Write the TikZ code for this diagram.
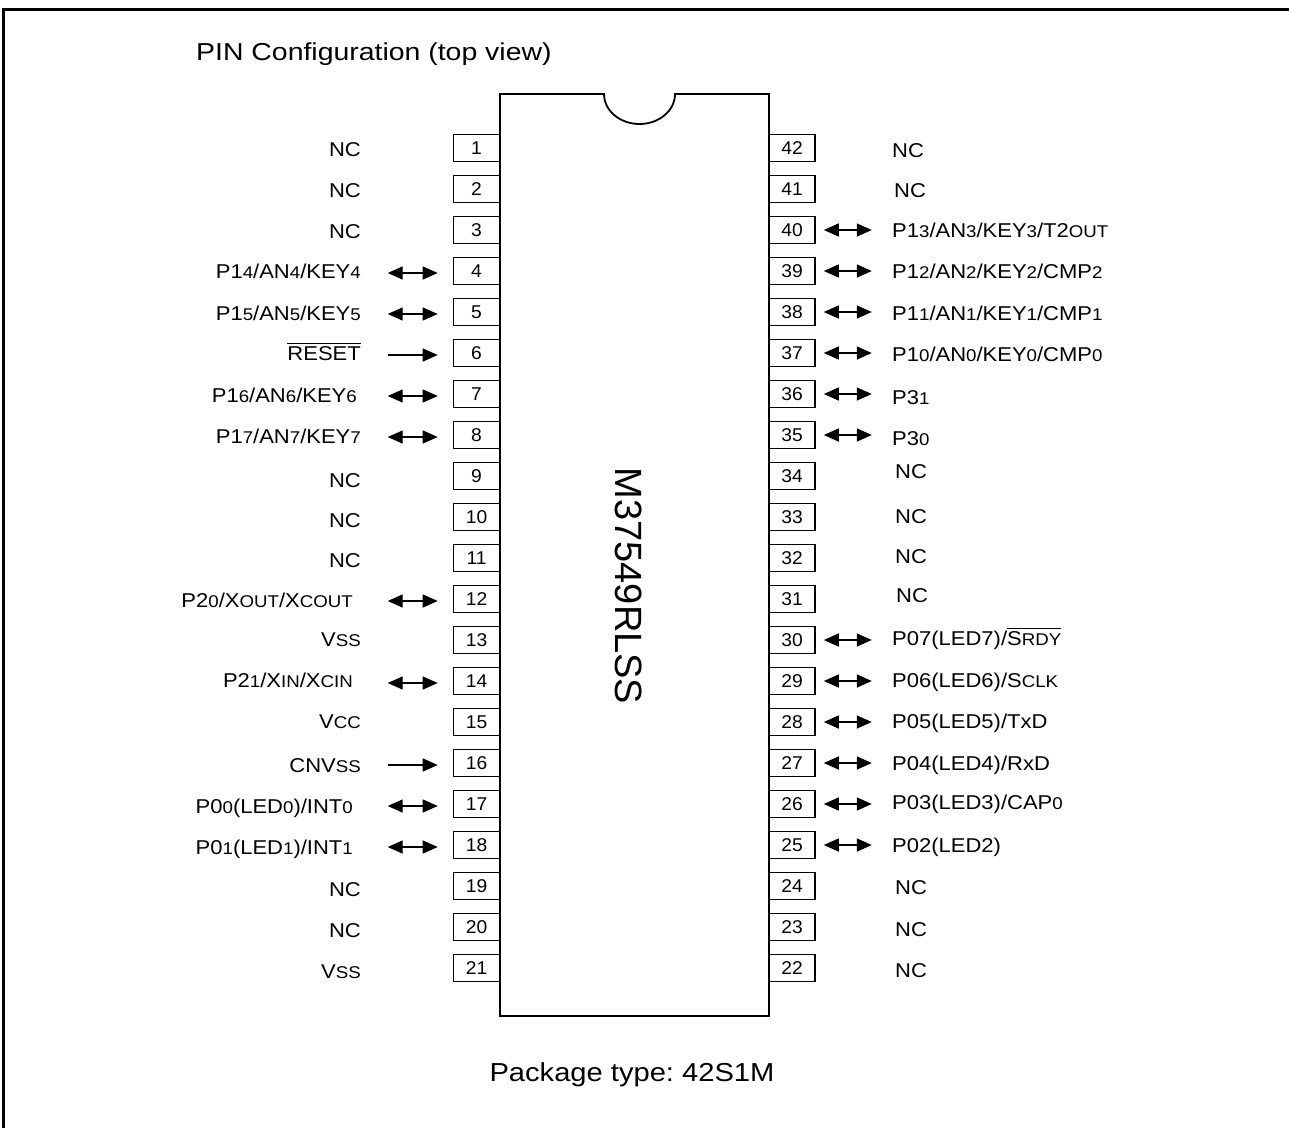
\documentclass[tikz,border=0pt]{standalone}
\usepackage{fontspec}
\setmainfont{Liberation Sans}
\usepackage{graphicx}
\usetikzlibrary{arrows.meta}
\frenchspacing
\newcommand\sm[1]{{\fontsize{17}{20}\selectfont #1}}
\newcommand\lab[1]{\scalebox{1.1}[1]{\fontsize{20}{24}\selectfont #1}}
\newcommand\ovl[1]{\setbox0\hbox{#1}\rlap{\rule[\dimexpr\ht0+1.8pt\relax]{\wd0}{1.1pt}}\box0}
\begin{document}
\begin{tikzpicture}[x=1pt,y=-1pt,
  pinbox/.style={draw, line width=1.6pt, minimum width=46pt, minimum height=27pt, inner sep=0pt,
    font=\fontsize{18.5}{20}\selectfont},
  lbl/.style={inner sep=0pt},
  lleft/.style={lbl, anchor=base east},
  lright/.style={lbl, anchor=base west},
  bi/.style={line width=1.4pt, {Triangle[length=15pt,width=13pt]}-{Triangle[length=15pt,width=13pt]}},
  uni/.style={line width=1.4pt, -{Triangle[length=15pt,width=13pt]}}]
\useasboundingbox (0,0) rectangle (1289,1128);
% frame
\draw[line width=3pt] (3.5,1128) -- (3.5,9.5) -- (1289,9.5);
% title
\node[lbl, anchor=base west] (title) at (196,60) {\scalebox{1.16}[1]{\fontsize{24.5}{28}\selectfont PIN Configuration (top view)}};
% chip body
\draw[line width=1.8pt] (500,94) -- (604,94) arc[start angle=180, end angle=0, x radius=35.5, y radius=30] -- (769,94) -- (769,1016) -- (500,1016) -- cycle;
\node[rotate=-90, inner sep=0pt, font=\fontsize{38}{40}\selectfont] (chipname) at (629,586) {M37549RLSS};
% pin boxes
\foreach \i in {1,...,21} \node[pinbox] (p\i) at (476.5,{148+41*(\i-1)}) {\scalebox{1.04}[1]{\i}};
\foreach \k in {22,...,42} \node[pinbox] (p\k) at (792,{148+41*(42-\k)}) {\scalebox{1.04}[1]{\k}};
% left labels
\node[lleft] (l1) at (361,156) {\lab{NC}};
\node[lleft] (l2) at (361,197) {\lab{NC}};
\node[lleft] (l3) at (361,238) {\lab{NC}};
\node[lleft] (l4) at (361,278) {\lab{P1\sm{4}/AN\sm{4}/KEY\sm{4}}};
\node[lleft] (l5) at (361,320) {\lab{P1\sm{5}/AN\sm{5}/KEY\sm{5}}};
\node[lleft] (l6) at (361,360) {\lab{\ovl{RESET}}};
\node[lleft] (l7) at (357,402) {\lab{P1\sm{6}/AN\sm{6}/KEY\sm{6}}};
\node[lleft] (l8) at (361,443) {\lab{P1\sm{7}/AN\sm{7}/KEY\sm{7}}};
\node[lleft] (l9) at (361,487) {\lab{NC}};
\node[lleft] (l10) at (361,527) {\lab{NC}};
\node[lleft] (l11) at (361,567) {\lab{NC}};
\node[lleft] (l12) at (353,607) {\lab{P2\sm{0}/X\sm{OUT}/X\sm{COUT}}};
\node[lleft] (l13) at (361,646) {\lab{V\sm{SS}}};
\node[lleft] (l14) at (353,687) {\lab{P2\sm{1}/X\sm{IN}/X\sm{CIN}}};
\node[lleft] (l15) at (361,728) {\lab{V\sm{CC}}};
\node[lleft] (l16) at (361,772) {\lab{CNV\sm{SS}}};
\node[lleft] (l17) at (353,813) {\lab{P0\sm{0}(LED\sm{0})/INT\sm{0}}};
\node[lleft] (l18) at (353,854) {\lab{P0\sm{1}(LED\sm{1})/INT\sm{1}}};
\node[lleft] (l19) at (361,896) {\lab{NC}};
\node[lleft] (l20) at (361,937) {\lab{NC}};
\node[lleft] (l21) at (361,978) {\lab{V\sm{SS}}};
% right labels
\node[lright] (l42) at (892,157) {\lab{NC}};
\node[lright] (l41) at (894,197) {\lab{NC}};
\node[lright] (l40) at (892,237) {\lab{P1\sm{3}/AN\sm{3}/KEY\sm{3}/T2\sm{OUT}}};
\node[lright] (l39) at (892,278) {\lab{P1\sm{2}/AN\sm{2}/KEY\sm{2}/CMP\sm{2}}};
\node[lright] (l38) at (892,320) {\lab{P1\sm{1}/AN\sm{1}/KEY\sm{1}/CMP\sm{1}}};
\node[lright] (l37) at (892,361) {\lab{P1\sm{0}/AN\sm{0}/KEY\sm{0}/CMP\sm{0}}};
\node[lright] (l36) at (892,404) {\lab{P3\sm{1}}};
\node[lright] (l35) at (892,445) {\lab{P3\sm{0}}};
\node[lright] (l34) at (895,478) {\lab{NC}};
\node[lright] (l33) at (895,523) {\lab{NC}};
\node[lright] (l32) at (895,563) {\lab{NC}};
\node[lright] (l31) at (896,602) {\lab{NC}};
\node[lright] (l30) at (892,645) {\lab{P07(LED7)/\ovl{S\sm{RDY}}}};
\node[lright] (l29) at (892,687) {\lab{P06(LED6)/S\sm{CLK}}};
\node[lright] (l28) at (892,728) {\lab{P05(LED5)/TxD}};
\node[lright] (l27) at (892,770) {\lab{P04(LED4)/RxD}};
\node[lright] (l26) at (892,809) {\lab{P03(LED3)/CAP\sm{0}}};
\node[lright] (l25) at (892,852) {\lab{P02(LED2)}};
\node[lright] (l24) at (895,894) {\lab{NC}};
\node[lright] (l23) at (895,936) {\lab{NC}};
\node[lright] (l22) at (895,977) {\lab{NC}};
% left arrows
\foreach \i in {4,5,7,8,12,14,17,18}
  \draw[bi] ([shift={(-65,2)}]p\i.west) -- ([shift={(-15,2)}]p\i.west);
\foreach \i in {6,16}
  \draw[uni] ([shift={(-65,2)}]p\i.west) -- ([shift={(-15,2)}]p\i.west);
% right arrows
\foreach \k in {40,39,38,37,36,35,30,29,28,27,26,25}
  \draw[bi] ([shift={(8,0)}]p\k.east) -- ([shift={(56,0)}]p\k.east);
% package
\node[lbl, anchor=base] (pkg) at (632,1081) {\scalebox{1.12}[1]{\fontsize{26}{30}\selectfont Package type: 42S1M}};
\end{tikzpicture}
\end{document}
